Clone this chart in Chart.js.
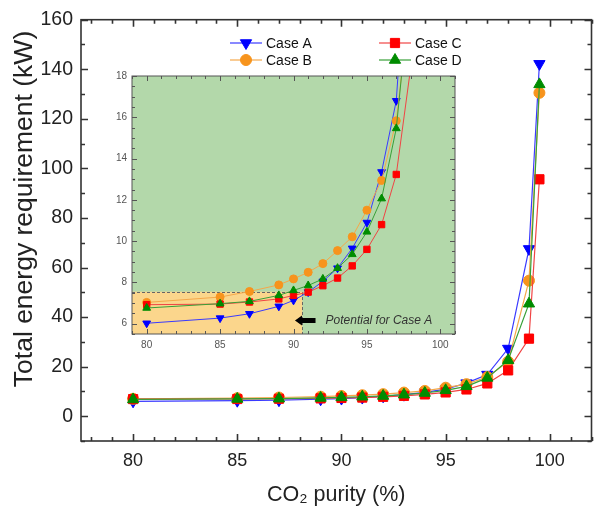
<!DOCTYPE html>
<html>
<head>
<meta charset="utf-8">
<script src="https://cdn.jsdelivr.net/npm/chart.js@4.4.1/dist/chart.umd.min.js"></script>
<style>
    html, body { margin: 0; padding: 0; background: #fff; }
    #wrap { position: relative; width: 599px; height: 509px; }
    #mainChart { position: absolute; left: 0; top: 0; }
    #insetChart { position: absolute; left: 95px; top: 65px; }
</style>
</head>
<body>
<div id="wrap">
    <canvas id="mainChart" width="599" height="509"></canvas>
    <canvas id="insetChart" width="370" height="295"></canvas>
</div>
<script>
// CO2 purity (%) and total energy requirement (kW) per case
const purity = [80, 85, 87, 89, 90, 91, 92, 93, 94, 95, 96, 97, 98, 99, 99.5];
const caseA = [6.02, 6.27, 6.48, 6.84, 7.13, 7.53, 8.05, 8.69, 9.65, 10.9, 13.35, 16.8, 27.3, 67.5, 142.2];
const caseB = [7.03, 7.29, 7.56, 7.88, 8.17, 8.49, 8.91, 9.54, 10.21, 11.5, 12.94, 15.83, 22.0, 54.7, 130.5];
const caseC = [6.92, 6.95, 7.05, 7.2, 7.37, 7.53, 7.84, 8.21, 8.8, 9.6, 10.8, 13.23, 18.5, 31.3, 95.6];
const caseD = [6.76, 6.97, 7.08, 7.37, 7.61, 7.85, 8.17, 8.69, 9.36, 10.45, 12.06, 15.46, 22.6, 45.4, 133.9];

const seriesNames = ["Case A", "Case B", "Case C", "Case D"];
const seriesValues = [caseA, caseB, caseC, caseD];

// tick labels
const mainXTicks = [80, 85, 90, 95, 100];
const mainYTicks = [0, 20, 40, 60, 80, 100, 120, 140, 160];
const insetXTicks = [80, 85, 90, 95, 100];
const insetYTicks = [6, 8, 10, 12, 14, 16, 18];

const xTitle = "CO₂ purity (%)";
const yTitle = "Total energy requirement (kW)";

// styles
const lineColors = ["#3a3aff", "#f5a84a", "#f04444", "#38a038"];
const markerColors = ["#0000ff", "#f7941d", "#ff0000", "#008c00"];
const markerShapes = ["triangle", "circle", "rect", "triangle"];
const markerRotations = [180, 0, 0, 0];
const mainRadius = [6.5, 5.5, 6.5, 6.5];
const insetRadius = [4.5, 4, 4.5, 4.5];
const drawOrder = [4, 3, 2, 1];

// inset highlight
const highlightMaxX = 90.6;
const highlightMaxY = 7.55;
const arrowFrom = [91.5, 6.16];
const arrowTo = [90.1, 6.16];
const noteText = "Potential for Case A";

const FONT = "'Liberation Sans', Arial, sans-serif";

function buildDatasets(radius, lineWidth) {
    return seriesNames.map((name, i) => ({
        label: name,
        data: purity.map((p, k) => ({ x: p, y: seriesValues[i][k] })),
        borderColor: lineColors[i],
        borderWidth: lineWidth,
        backgroundColor: markerColors[i],
        pointBackgroundColor: markerColors[i],
        pointBorderColor: markerColors[i],
        pointBorderWidth: 1,
        pointStyle: markerShapes[i],
        rotation: markerRotations[i],
        pointRadius: radius[i],
        order: drawOrder[i],
        tension: 0
    }));
}

function fixedTicks(values) {
    return function (scale) {
        scale.ticks = values.map(v => ({ value: v }));
    };
}

function frameTicks(id, o) {
    return {
        id: id,
        afterDraw(chart) {
            const { ctx, chartArea: a, scales: { x, y } } = chart;
            ctx.save();
            ctx.strokeStyle = o.color;
            ctx.lineWidth = o.width;
            ctx.beginPath();
            for (let i = Math.ceil(x.min / o.xMinor); i * o.xMinor <= x.max + 1e-9; i++) {
                const v = i * o.xMinor;
                const px = Math.round(x.getPixelForValue(v)) + 0.5;
                const major = Math.abs(v / o.xMajor - Math.round(v / o.xMajor)) < 1e-6;
                const len = major ? o.major : o.minor;
                ctx.moveTo(px, a.bottom); ctx.lineTo(px, a.bottom - len);
                ctx.moveTo(px, a.top); ctx.lineTo(px, a.top + len);
            }
            for (let i = Math.ceil(y.min / o.yMinor); i * o.yMinor <= y.max + 1e-9; i++) {
                const v = i * o.yMinor;
                const py = Math.round(y.getPixelForValue(v)) + 0.5;
                const major = Math.abs(v / o.yMajor - Math.round(v / o.yMajor)) < 1e-6;
                const len = major ? o.major : o.minor;
                ctx.moveTo(a.left, py); ctx.lineTo(a.left + len, py);
                ctx.moveTo(a.right, py); ctx.lineTo(a.right - len, py);
            }
            ctx.stroke();
            ctx.strokeRect(a.left, a.top, a.right - a.left, a.bottom - a.top);
            ctx.restore();
        }
    };
}

// y title sits a bit above the axis middle in the original, so draw it by hand
const yTitlePlugin = {
    id: "yTitle",
    afterDraw(chart) {
        const ctx = chart.ctx;
        ctx.save();
        ctx.translate(25, 209);
        ctx.rotate(-Math.PI / 2);
        ctx.fillStyle = "#222";
        ctx.font = "26.5px " + FONT;
        ctx.textAlign = "center";
        ctx.textBaseline = "middle";
        ctx.fillText(yTitle, 0, 0);
        ctx.restore();
    }
};

const legendPlugin = {
    id: "caseLegend",
    afterDraw(chart) {
        const ctx = chart.ctx;
        const cols = [246, 395];
        const rows = [43, 60];
        const slots = [[0, 0], [0, 1], [1, 0], [1, 1]]; // A, B, C, D
        ctx.save();
        chart.data.datasets.forEach((ds, i) => {
            const cx = cols[slots[i][0]];
            const cy = rows[slots[i][1]];
            ctx.strokeStyle = ds.borderColor;
            ctx.lineWidth = 1.2;
            ctx.beginPath();
            ctx.moveTo(cx - 16, cy); ctx.lineTo(cx + 16, cy);
            ctx.stroke();
            ctx.fillStyle = ds.pointBackgroundColor;
            ctx.strokeStyle = ds.pointBorderColor;
            ctx.lineWidth = 1;
            Chart.helpers.drawPoint(ctx, { pointStyle: ds.pointStyle, rotation: ds.rotation, radius: ds.pointRadius, borderWidth: 1 }, cx, cy);
            ctx.fillStyle = "#111";
            ctx.font = "14px " + FONT;
            ctx.textBaseline = "middle";
            ctx.fillText(ds.label, cx + 20, cy + 1);
        });
        ctx.restore();
    }
};

const insetBackground = {
    id: "insetBackground",
    beforeDatasetsDraw(chart) {
        const { ctx, chartArea: a, scales: { x, y } } = chart;
        ctx.save();
        ctx.fillStyle = "#b3d8aa";
        ctx.fillRect(a.left, a.top, a.right - a.left, a.bottom - a.top);
        const hx = x.getPixelForValue(highlightMaxX);
        const hy = y.getPixelForValue(highlightMaxY);
        ctx.fillStyle = "#fbd68c";
        ctx.fillRect(a.left, hy, hx - a.left, a.bottom - hy);
        ctx.strokeStyle = "#666";
        ctx.lineWidth = 1;
        ctx.setLineDash([3, 2]);
        ctx.beginPath();
        ctx.moveTo(a.left, Math.round(hy) + 0.5);
        ctx.lineTo(Math.round(hx) + 0.5, Math.round(hy) + 0.5);
        ctx.lineTo(Math.round(hx) + 0.5, a.bottom);
        ctx.stroke();
        ctx.restore();
    },
    afterDatasetsDraw(chart) {
        const { ctx, scales: { x, y } } = chart;
        const x0 = x.getPixelForValue(arrowFrom[0]);
        const x1 = x.getPixelForValue(arrowTo[0]);
        const ay = y.getPixelForValue(arrowTo[1]);
        ctx.save();
        ctx.fillStyle = "#000";
        ctx.beginPath();
        ctx.moveTo(x1, ay);
        ctx.lineTo(x1 + 7, ay - 5);
        ctx.lineTo(x1 + 7, ay - 2.5);
        ctx.lineTo(x0, ay - 2.5);
        ctx.lineTo(x0, ay + 2.5);
        ctx.lineTo(x1 + 7, ay + 2.5);
        ctx.lineTo(x1 + 7, ay + 5);
        ctx.closePath();
        ctx.fill();
        ctx.fillStyle = "#333";
        ctx.font = "italic 12px " + FONT;
        ctx.textBaseline = "middle";
        ctx.fillText(noteText, x0 + 10, ay);
        ctx.restore();
    }
};

const mainChart = new Chart(document.getElementById("mainChart"), {
    type: "line",
    data: { datasets: buildDatasets(mainRadius, 1.2) },
    options: {
        responsive: false,
        animation: false,
        layout: { padding: { top: 18, right: 1, left: 0, bottom: 0 } },
        plugins: { legend: { display: false }, tooltip: { enabled: false } },
        scales: {
            x: {
                type: "linear", min: 77.5, max: 102,
                grid: { display: false, drawTicks: false },
                border: { display: false },
                ticks: { padding: 9, color: "#222", font: { size: 18, family: FONT } },
                title: { display: true, text: xTitle, color: "#222", font: { size: 21.5, family: FONT, lineHeight: 1.2 }, padding: { top: 2, bottom: 1 } },
                afterBuildTicks: fixedTicks(mainXTicks),
                afterFit(s) { s.height = 68; }
            },
            y: {
                type: "linear", min: -10, max: 160,
                grid: { display: false, drawTicks: false },
                border: { display: false },
                ticks: { padding: 8, color: "#222", font: { size: 19.5, family: FONT } },
                afterBuildTicks: fixedTicks(mainYTicks),
                afterFit(s) { s.width = 81; }
            }
        }
    },
    plugins: [frameTicks("mainFrame", { color: "#333", width: 1.6, xMinor: 1, xMajor: 5, yMinor: 10, yMajor: 20, major: 7, minor: 4 }), legendPlugin, yTitlePlugin]
});

const insetChart = new Chart(document.getElementById("insetChart"), {
    type: "line",
    data: { datasets: buildDatasets(insetRadius, 1) },
    options: {
        responsive: false,
        animation: false,
        layout: { padding: { top: 10, right: 10, left: 0, bottom: 0 } },
        plugins: { legend: { display: false }, tooltip: { enabled: false } },
        scales: {
            x: {
                type: "linear", min: 79, max: 101,
                grid: { display: false, drawTicks: false },
                border: { display: false },
                ticks: { padding: 5, color: "#555", font: { size: 10, family: FONT } },
                afterBuildTicks: fixedTicks(insetXTicks),
                afterFit(s) { s.height = 26; }
            },
            y: {
                type: "linear", min: 5.5, max: 18,
                grid: { display: false, drawTicks: false },
                border: { display: false },
                ticks: { padding: 5, color: "#555", font: { size: 10, family: FONT } },
                afterBuildTicks: fixedTicks(insetYTicks),
                afterFit(s) { s.width = 37; }
            }
        }
    },
    plugins: [insetBackground, frameTicks("insetFrame", { color: "#555", width: 1, xMinor: 1, xMajor: 5, yMinor: 0.5, yMajor: 2, major: 5, minor: 3 })]
});
</script>
</body>
</html>
